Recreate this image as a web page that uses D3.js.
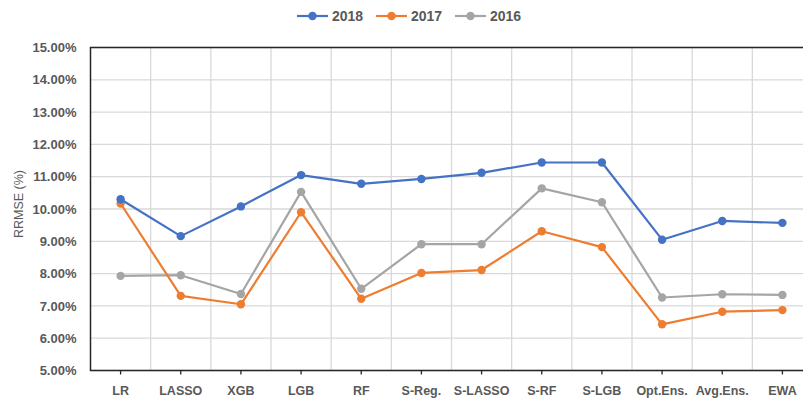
<!DOCTYPE html>
<html>
<head>
<meta charset="utf-8">
<script src="https://cdn.jsdelivr.net/npm/d3@7"></script>
<style>
  body { margin: 0; background: #fff; }
  svg { display: block; font-family: "Liberation Sans", Arial, sans-serif; }
</style>
</head>
<body>
<div id="vis"></div>
<script>
const FRAME_WIDTH = 803;
const FRAME_HEIGHT = 400;
const MARGINS = {left: 90.5, right: -9.5, top: 47.5, bottom: 29.5};

// data
const categories = ["LR", "LASSO", "XGB", "LGB", "RF", "S-Reg.", "S-LASSO", "S-RF", "S-LGB", "Opt.Ens.", "Avg.Ens.", "EWA"];
const years = ["2018", "2017", "2016"];
const vals2018 = [10.30, 9.16, 10.08, 11.05, 10.78, 10.93, 11.12, 11.44, 11.44, 9.05, 9.63, 9.57];
const vals2017 = [10.17, 7.31, 7.05, 9.90, 7.22, 8.02, 8.11, 9.31, 8.82, 6.43, 6.82, 6.87];
const vals2016 = [7.93, 7.95, 7.37, 10.53, 7.53, 8.91, 8.91, 10.64, 10.21, 7.26, 7.36, 7.34];
const yTicks = [5, 6, 7, 8, 9, 10, 11, 12, 13, 14, 15];
const colors = ["#4472C4", "#ED7D31", "#A5A5A5"];

const series = [vals2018, vals2017, vals2016].map((v, i) => ({name: years[i], color: colors[i], values: v}));

const VIS_WIDTH = FRAME_WIDTH - MARGINS.left - MARGINS.right;
const VIS_HEIGHT = FRAME_HEIGHT - MARGINS.top - MARGINS.bottom;

const svg = d3.select("#vis")
  .append("svg")
    .attr("width", FRAME_WIDTH)
    .attr("height", FRAME_HEIGHT);

const X_SCALE = d3.scaleBand()
  .domain(categories)
  .range([0, VIS_WIDTH]);

const Y_SCALE = d3.scaleLinear()
  .domain([5, 15])
  .range([VIS_HEIGHT, 0]);

const g = svg.append("g")
  .attr("transform", `translate(${MARGINS.left},${MARGINS.top})`);

// horizontal grid
g.selectAll(".hgrid")
  .data(yTicks)
  .enter()
  .append("line")
    .attr("x1", 0).attr("x2", VIS_WIDTH)
    .attr("y1", d => Y_SCALE(d)).attr("y2", d => Y_SCALE(d))
    .attr("stroke", "#D9D9D9").attr("stroke-width", 1.3);

// vertical grid at category boundaries
g.selectAll(".vgrid")
  .data(categories.slice(1))
  .enter()
  .append("line")
    .attr("x1", d => X_SCALE(d)).attr("x2", d => X_SCALE(d))
    .attr("y1", 0).attr("y2", VIS_HEIGHT)
    .attr("stroke", "#D9D9D9").attr("stroke-width", 1.3);

// frame
g.append("rect")
  .attr("x", 0).attr("y", 0)
  .attr("width", VIS_WIDTH).attr("height", VIS_HEIGHT)
  .attr("fill", "none")
  .attr("stroke", "#262626")
  .attr("stroke-width", 1.5);

// y axis labels
const yAxis = g.append("g")
  .call(d3.axisLeft(Y_SCALE).tickValues(yTicks).tickSize(0).tickPadding(14)
    .tickFormat(d => d.toFixed(2) + "%"));
yAxis.select(".domain").remove();
yAxis.selectAll("text")
  .attr("fill", "#595959")
  .style("font-size", "13px")
  .style("font-weight", "bold");

// x axis
const xAxis = g.append("g")
  .attr("transform", `translate(0,${VIS_HEIGHT})`)
  .call(d3.axisBottom(X_SCALE).tickSize(4).tickPadding(12));
xAxis.select(".domain").remove();
xAxis.selectAll("line").attr("stroke", "#262626").attr("stroke-width", 1.3);
xAxis.selectAll("text")
  .attr("fill", "#595959")
  .style("font-size", "12.5px")
  .style("font-weight", "bold");

// axis title
svg.append("text")
  .attr("transform", "translate(23,204) rotate(-90)")
  .attr("text-anchor", "middle")
  .attr("fill", "#595959")
  .style("font-size", "12.5px")
  .text("RRMSE (%)");

// lines + points
const line = d3.line()
  .x((d, i) => X_SCALE(categories[i]) + X_SCALE.bandwidth() / 2)
  .y(d => Y_SCALE(d));

series.slice().reverse().forEach(s => {
  g.append("path")
    .datum(s.values)
    .attr("fill", "none")
    .attr("stroke", s.color)
    .attr("stroke-width", 2.2)
    .attr("stroke-linejoin", "round")
    .attr("d", line);
  g.selectAll(null)
    .data(s.values)
    .enter()
    .append("circle")
      .attr("cx", (d, i) => X_SCALE(categories[i]) + X_SCALE.bandwidth() / 2)
      .attr("cy", d => Y_SCALE(d))
      .attr("r", 4.2)
      .attr("fill", s.color);
});

// legend
const legendX = [297, 376, 455];
const legend = svg.selectAll(".legend")
  .data(series)
  .enter()
  .append("g")
    .attr("transform", (d, i) => `translate(${legendX[i]},16)`);
legend.append("line")
  .attr("x1", 0).attr("x2", 31)
  .attr("stroke", d => d.color).attr("stroke-width", 2.2);
legend.append("circle")
  .attr("cx", 15.5).attr("r", 4.2)
  .attr("fill", d => d.color);
legend.append("text")
  .attr("x", 35).attr("y", 5)
  .attr("fill", "#595959")
  .style("font-size", "14px")
  .style("font-weight", "bold")
  .text(d => d.name);
</script>
</body>
</html>
